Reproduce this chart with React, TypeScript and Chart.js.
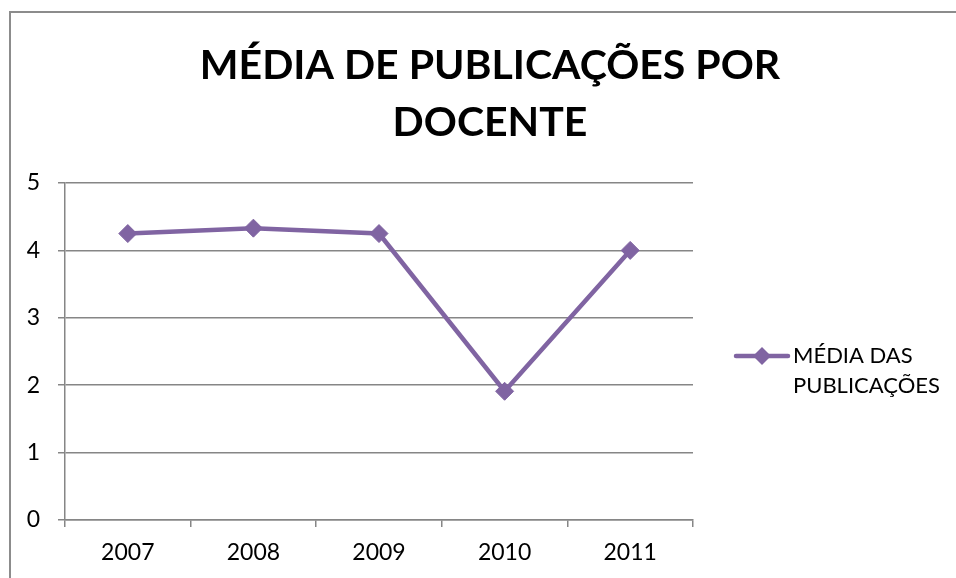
import React, { useEffect, useRef } from "react";
import { Chart, registerables } from "chart.js";

Chart.register(...registerables);

const categories = ["2007", "2008", "2009", "2010", "2011"];
const mediaValues = [4.25, 4.33, 4.25, 1.91, 4.0];
const titleLines = ["MÉDIA DE PUBLICAÇÕES POR", "DOCENTE"];
const legendLines = ["MÉDIA DAS", "PUBLICAÇÕES"];
const seriesLabel = "MÉDIA DAS PUBLICAÇÕES";

const PURPLE = "#8064A2";
const GRID = "#868686";
const FONT = "Lato, 'Open Sans', sans-serif";

const decorPlugin = {
  id: "decor",
  beforeDraw(chart: any) {
    const ctx = chart.ctx;
    ctx.save();
    ctx.fillStyle = "#ffffff";
    ctx.fillRect(0, 0, chart.width, chart.height);
    ctx.strokeStyle = "#8c8c8c";
    ctx.lineWidth = 2;
    ctx.strokeRect(10, 12, chart.width + 20, chart.height + 20);
    ctx.restore();
  },
  afterDraw(chart: any) {
    const ctx = chart.ctx;
    ctx.save();
    // title
    ctx.fillStyle = "#000000";
    ctx.textAlign = "center";
    ctx.textBaseline = "middle";
    ctx.font = `bold 41px ${FONT}`;
    ctx.fillText(titleLines[0], 490, 66);
    ctx.fillText(titleLines[1], 490, 123);
    // legend
    const ly = 356;
    ctx.strokeStyle = PURPLE;
    ctx.lineWidth = 4.5;
    ctx.lineCap = "round";
    ctx.beginPath();
    ctx.moveTo(736, ly);
    ctx.lineTo(788, ly);
    ctx.stroke();
    ctx.fillStyle = PURPLE;
    ctx.beginPath();
    ctx.moveTo(762, ly - 9);
    ctx.lineTo(771, ly);
    ctx.lineTo(762, ly + 9);
    ctx.lineTo(753, ly);
    ctx.closePath();
    ctx.fill();
    ctx.fillStyle = "#000000";
    ctx.textAlign = "left";
    ctx.font = `22px ${FONT}`;
    ctx.fillText(legendLines[0], 793, ly);
    ctx.fillText(legendLines[1], 793, ly + 30);
    ctx.restore();
  },
};

export default function App() {
  const ref = useRef<HTMLCanvasElement>(null);
  useEffect(() => {
    if (!ref.current) return;
    const chart = new Chart(ref.current, {
      type: "line",
      data: {
        labels: categories,
        datasets: [
          {
            label: seriesLabel,
            data: mediaValues,
            borderColor: PURPLE,
            backgroundColor: PURPLE,
            borderWidth: 4.5,
            pointStyle: "rectRot",
            pointRadius: 9,
            pointBorderWidth: 1,
            pointBackgroundColor: PURPLE,
            pointBorderColor: PURPLE,
            tension: 0,
          },
        ],
      },
      options: {
        responsive: false,
        animation: false,
        layout: { padding: { top: 183, right: 263, left: 0, bottom: 0 } },
        plugins: {
          legend: { display: false },
          title: { display: false },
          tooltip: { enabled: false },
        },
        scales: {
          x: {
            offset: true,
            afterFit(scale: any) {
              scale.height = 58;
            },
            grid: {
              offset: true,
              drawOnChartArea: false,
              drawTicks: true,
              tickLength: 7,
              color: GRID,
              lineWidth: 1.5,
            },
            border: { color: GRID, width: 1.5 },
            ticks: {
              color: "#000000",
              font: { family: FONT, size: 23 },
              padding: 12,
              maxRotation: 0,
            },
          },
          y: {
            min: 0,
            max: 5,
            afterFit(scale: any) {
              scale.width = 65;
            },
            grid: {
              color: GRID,
              lineWidth: 1.5,
              drawTicks: true,
              tickLength: 7,
            },
            border: { color: GRID, width: 1.5 },
            ticks: {
              stepSize: 1,
              color: "#000000",
              font: { family: FONT, size: 23 },
              padding: 18,
            },
          },
        },
      },
      plugins: [decorPlugin],
    });
    return () => chart.destroy();
  }, []);
  return (
    <div style={{ position: "absolute", left: 0, top: 0, width: 956, height: 578 }}>
      <canvas ref={ref} width={956} height={578} style={{ display: "block" }} />
    </div>
  );
}
